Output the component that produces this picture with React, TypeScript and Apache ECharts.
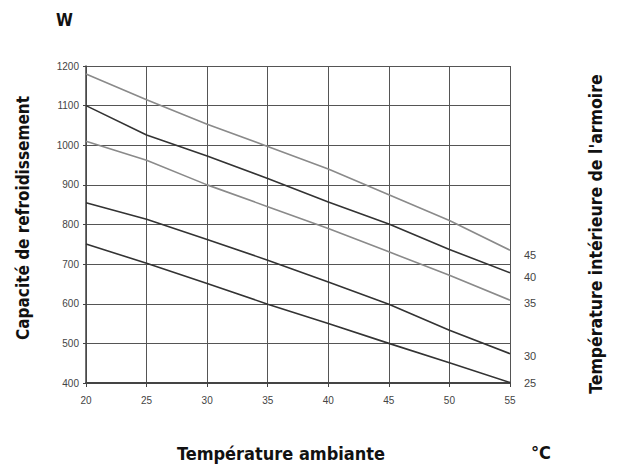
import React, { useEffect, useRef } from "react";
import * as echarts from "echarts";

const ambientTemps = [20, 25, 30, 35, 40, 45, 50, 55];
const cabinetTemps = ["45", "40", "35", "30", "25"];
const cap45 = [1180, 1115, 1053, 997, 940, 875, 810, 735];
const cap40 = [1100, 1026, 973, 916, 857, 801, 737, 678];
const cap35 = [1010, 962, 900, 845, 790, 731, 672, 609];
const cap30 = [855, 813, 762, 710, 655, 599, 533, 474];
const cap25 = [751, 702, 651, 599, 550, 500, 451, 401];
const seriesValues = [cap45, cap40, cap35, cap30, cap25];
const lineColors = ["#8a8a8a", "#333333", "#8a8a8a", "#333333", "#333333"];
const labelOffsets = [5, 4, 3, 2, 0];

const boldFont = '"Liberation Sans Narrow", "DejaVu Sans Condensed", "Liberation Sans", sans-serif';
const tickFont = '"Liberation Sans", Arial, sans-serif';

export default function App() {
  const ref = useRef<HTMLDivElement>(null);
  useEffect(() => {
    if (!ref.current) return;
    const chart = echarts.init(ref.current, undefined, { renderer: "svg" });
    chart.setOption({
      animation: false,
      backgroundColor: "#ffffff",
      grid: { left: 86, right: 107, top: 66, bottom: 82, containLabel: false, show: false },
      xAxis: {
        type: "value",
        min: 20,
        max: 55,
        interval: 5,
        axisLine: { show: true, lineStyle: { color: "#444", width: 2 } },
        axisTick: { show: true, length: 4, lineStyle: { color: "#444" } },
        axisLabel: { color: "#444", fontSize: 10, fontFamily: tickFont, margin: 12 },
        splitLine: { show: true, lineStyle: { color: "#555", width: 1 } },
      },
      yAxis: {
        type: "value",
        min: 400,
        max: 1200,
        interval: 100,
        axisLine: { show: true, lineStyle: { color: "#444", width: 1.5 } },
        axisTick: { show: true, length: 3, lineStyle: { color: "#444" } },
        axisLabel: {
          color: "#444",
          fontSize: 10,
          fontFamily: tickFont,
          margin: 7,
          formatter: (v: number) => String(v),
        },
        splitLine: { show: true, lineStyle: { color: "#555", width: 1 } },
      },
      series: seriesValues.map((vals, i) => ({
        type: "line",
        name: cabinetTemps[i],
        data: ambientTemps.map((t, j) => [t, vals[j]]),
        symbol: "none",
        smooth: false,
        lineStyle: { color: lineColors[i], width: 1.6 },
        endLabel: {
          show: true,
          formatter: cabinetTemps[i],
          color: "#444",
          fontSize: 11,
          fontFamily: tickFont,
          offset: [6, labelOffsets[i]],
        },
      })),
      graphic: [
        {
          type: "text",
          left: 56,
          top: 11,
          style: { text: "W", font: `bold 17px ${boldFont}`, fill: "#111" },
        },
        {
          type: "text",
          x: 23,
          y: 218,
          rotation: Math.PI / 2,
          style: {
            text: "Capacité de refroidissement",
            font: `bold 17px ${boldFont}`,
            fill: "#111",
            textAlign: "center",
            textVerticalAlign: "middle",
          },
        },
        {
          type: "text",
          x: 596,
          y: 234,
          rotation: Math.PI / 2,
          style: {
            text: "Température intérieure de l'armoire",
            font: `bold 17.5px ${boldFont}`,
            fill: "#111",
            textAlign: "center",
            textVerticalAlign: "middle",
          },
        },
        {
          type: "text",
          x: 281,
          y: 453,
          style: {
            text: "Température ambiante",
            font: `bold 18px ${boldFont}`,
            fill: "#111",
            textAlign: "center",
            textVerticalAlign: "middle",
          },
        },
        {
          type: "text",
          x: 541,
          y: 452,
          style: {
            text: "°C",
            font: `bold 18px ${boldFont}`,
            fill: "#111",
            textAlign: "center",
            textVerticalAlign: "middle",
          },
        },
      ],
    });
    return () => chart.dispose();
  }, []);
  return <div ref={ref} style={{ width: 617, height: 465, position: "fixed", left: 0, top: 0 }} />;
}
